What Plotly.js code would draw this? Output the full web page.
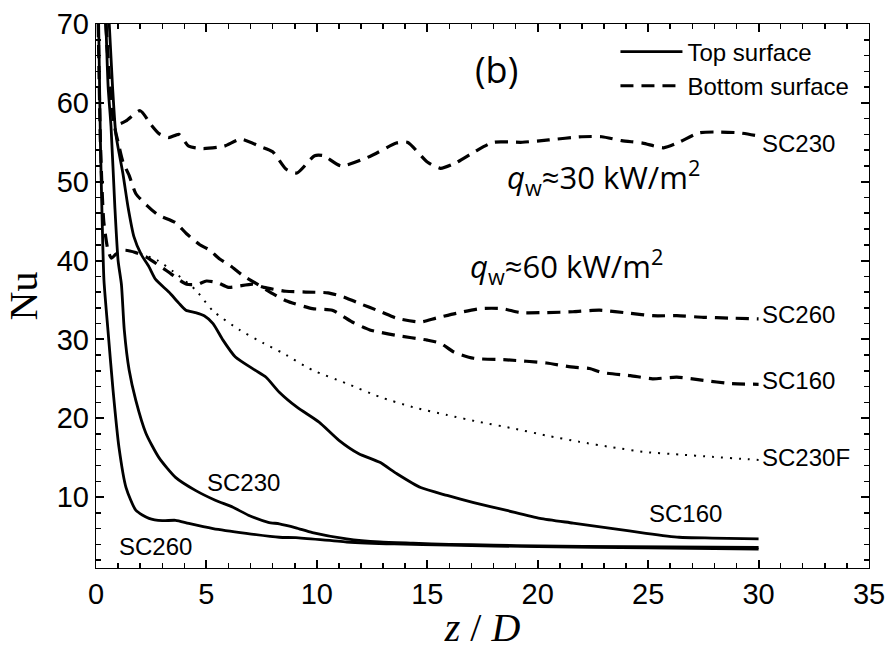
<!DOCTYPE html>
<html>
<head>
<meta charset="utf-8">
<script src="https://cdn.plot.ly/plotly-3.0.1.min.js"></script>
<style>html,body{margin:0;padding:0;background:#fff;}#chart{width:888px;height:651px;}</style>
</head>
<body>
<div id="chart"></div>
<script>
// Top surface (solid)
const topSC260_x = [0.12, 0.2, 0.28, 0.36, 0.54, 0.77, 1.04, 1.36, 1.81, 2.4, 3.0, 3.6, 4.2, 5.3, 6.8, 8.3, 9.05, 11.35, 13.5, 16, 20, 25, 30];
const topSC260_y = [70, 55, 45, 37.5, 31.2, 23.6, 16.3, 11.2, 8.3, 7.3, 7.0, 7.05, 6.65, 6.0, 5.4, 4.9, 4.85, 4.3, 4.05, 3.9, 3.7, 3.55, 3.4];
const topSC230_x = [0.45, 0.55, 0.68, 0.85, 1.0, 1.15, 1.28, 1.5, 1.8, 2.26, 2.85, 3.6, 4.5, 5.4, 6.2, 6.9, 7.8, 8.3, 9.05, 9.8, 11.35, 12.85, 14.35, 16, 18, 20, 24, 30];
const topSC230_y = [70, 62, 57, 47, 40, 37, 31.2, 26.1, 22.3, 18.1, 15.0, 12.5, 10.85, 9.6, 8.7, 7.7, 6.8, 6.6, 6.1, 5.5, 4.7, 4.3, 4.15, 4.0, 3.9, 3.8, 3.7, 3.6];
const topSC160_x = [0.6, 0.75, 0.9, 1.22, 1.45, 1.72, 2.04, 2.4, 2.7, 3.3, 3.75, 4.07, 4.5, 4.9, 5.3, 5.75, 6.3, 7.2, 7.7, 8.3, 9.1, 10.1, 11.0, 11.9, 12.85, 13.6, 14.7, 15.9, 17.1, 18.6, 20.1, 21.6, 23.4, 24.9, 26.4, 27.9, 30];
const topSC160_y = [70, 62, 56, 51, 46.8, 43, 40.8, 39.2, 37.6, 36, 34.6, 33.7, 33.4, 33.0, 32.0, 29.9, 27.8, 26.1, 25.2, 23.3, 21.4, 19.5, 17.2, 15.5, 14.4, 13.0, 11.2, 10.2, 9.3, 8.3, 7.3, 6.7, 6.0, 5.4, 4.9, 4.8, 4.7];

// Bottom surface (dashed)
const botSC230_x = [0.45, 0.6, 0.8, 1.0, 1.36, 2.0, 2.5, 2.85, 3.3, 3.75, 4.2, 4.85, 5.8, 6.56, 7.4, 8.0, 8.6, 9.1, 9.9, 10.3, 11.1, 12.4, 13.6, 14.1, 15.0, 15.6, 16.3, 17.2, 18.0, 19.3, 20.5, 22.0, 22.9, 23.8, 24.75, 25.7, 26.4, 27.3, 28.2, 29.1, 30];
const botSC230_y = [70, 63, 58, 57.3, 57.7, 59, 57.2, 56.1, 55.6, 56.0, 54.5, 54.2, 54.5, 55.4, 54.5, 53.8, 51.6, 51.1, 53.3, 53.3, 52.0, 53.2, 54.9, 55.0, 52.5, 51.7, 52.4, 53.9, 55.0, 55.0, 55.3, 55.7, 55.7, 55.2, 54.9, 54.3, 55.0, 56.2, 56.3, 56.2, 55.8];
const botSC260_x = [0.1, 0.2, 0.35, 0.55, 0.7, 0.9, 1.3, 1.8, 2.3, 3.2, 4.1, 4.6, 5.0, 5.5, 6.0, 7.1, 7.6, 8.6, 9.5, 10.5, 11.2, 11.8, 12.9, 13.6, 14.7, 15.4, 16.3, 17.4, 18.4, 19.2, 20.4, 21.6, 22.8, 24.2, 25.2, 26.3, 27.5, 28.7, 30];
const botSC260_y = [70, 55, 45, 41.2, 40.3, 40.8, 41.3, 41.0, 40.4, 38.7, 37.0, 37.0, 37.4, 37.2, 36.6, 37.0, 36.6, 36.1, 36.0, 35.9, 35.4, 34.7, 33.5, 32.7, 32.2, 32.7, 33.3, 33.9, 33.9, 33.4, 33.4, 33.5, 33.7, 33.3, 33.0, 33.0, 32.8, 32.7, 32.6];
const botSC160_x = [0.45, 0.6, 0.8, 1.0, 1.22, 1.5, 1.8, 2.3, 2.8, 3.6, 4.1, 4.7, 5.1, 5.6, 6.1, 6.6, 7.3, 8.0, 8.6, 9.8, 10.7, 11.6, 12.4, 13.6, 15.0, 15.6, 16.2, 17.1, 18.6, 20.4, 21.5, 22.35, 22.9, 24.2, 25.2, 26.3, 27.5, 28.7, 30];
const botSC160_y = [70, 63, 57.5, 55, 52.5, 50.8, 48.5, 47.0, 45.8, 44.8, 43.4, 42.0, 41.4, 40.2, 39.3, 38.2, 37.0, 35.8, 34.9, 33.9, 33.7, 32.2, 31.2, 30.5, 29.9, 29.5, 28.4, 27.6, 27.4, 27.0, 26.5, 26.3, 25.8, 25.4, 25.0, 25.2, 24.8, 24.4, 24.3];

// SC230F (dotted)
const sc230F_x = [2.0, 2.8, 3.5, 4.5, 5.3, 6.5, 7.6, 8.5, 9.8, 11.35, 12.85, 14.35, 15.9, 17.4, 18.9, 20.4, 21.9, 23.4, 24.9, 26.4, 27.9, 29.5, 30];
const sc230F_y = [40.9, 40.0, 38.6, 36.3, 33.6, 31.2, 29.5, 28.2, 26.1, 24.4, 22.7, 21.4, 20.4, 19.5, 18.7, 17.8, 17.0, 16.3, 15.7, 15.4, 15.1, 14.8, 14.7];

const labels = [
  {text: 'SC230', x: 30.05, y: 54.9, xanchor: 'left'},
  {text: 'SC260', x: 30.05, y: 33.1, xanchor: 'left'},
  {text: 'SC160', x: 30.05, y: 24.8, xanchor: 'left'},
  {text: 'SC230F', x: 30.05, y: 15.05, xanchor: 'left'},
  {text: 'SC160', x: 26.7, y: 7.9, xanchor: 'center'},
  {text: 'SC230', x: 6.7, y: 11.9, xanchor: 'center'},
  {text: 'SC260', x: 2.7, y: 3.7, xanchor: 'center'}
];

const solid = {color: '#000', width: 2.8, shape: 'spline', smoothing: 0.6};
const dashed = {color: '#000', width: 3.2, dash: '13px,8px', shape: 'spline', smoothing: 0.6};
const dotted = {color: '#000', width: 2, dash: '2px,7px', shape: 'spline', smoothing: 0.6};

const traces = [
  {x: topSC260_x, y: topSC260_y, mode: 'lines', line: solid, showlegend: false, name: 'SC260 top'},
  {x: topSC230_x, y: topSC230_y, mode: 'lines', line: solid, showlegend: false, name: 'SC230 top'},
  {x: topSC160_x, y: topSC160_y, mode: 'lines', line: solid, showlegend: true, name: 'Top surface'},
  {x: botSC230_x, y: botSC230_y, mode: 'lines', line: dashed, showlegend: true, name: 'Bottom surface'},
  {x: botSC260_x, y: botSC260_y, mode: 'lines', line: dashed, showlegend: false, name: 'SC260 bottom'},
  {x: botSC160_x, y: botSC160_y, mode: 'lines', line: dashed, showlegend: false, name: 'SC160 bottom'},
  {x: sc230F_x, y: sc230F_y, mode: 'lines', line: dotted, showlegend: false, name: 'SC230F'}
];

const annFont = {family: 'Liberation Sans, Arial, sans-serif', size: 24, color: '#000'};
const annotations = labels.map(l => ({
  text: l.text, x: l.x, y: l.y, xref: 'x', yref: 'y', xanchor: l.xanchor, yanchor: 'middle',
  showarrow: false, font: annFont
}));
const calFont = {family: 'Open Sans, sans-serif', size: 31, color: '#000'};
annotations.push({text: '(b)', x: 18.15, y: 64.2, xref: 'x', yref: 'y', showarrow: false, font: {family: 'Open Sans, sans-serif', size: 36, color: '#000'}});
annotations.push({text: '<i>q</i><sub>w</sub>≈30 kW/m<sup>2</sup>', x: 23.0, y: 50.5, xref: 'x', yref: 'y', showarrow: false, font: calFont});
annotations.push({text: '<i>q</i><sub>w</sub>≈60 kW/m<sup>2</sup>', x: 21.3, y: 39.2, xref: 'x', yref: 'y', showarrow: false, font: calFont});

const tickFont = {family: 'Liberation Sans, Arial, sans-serif', size: 29, color: '#000'};
const layout = {
  width: 888, height: 651,
  margin: {l: 96, r: 19, t: 24, b: 83},
  paper_bgcolor: '#fff', plot_bgcolor: '#fff',
  xaxis: {
    range: [0, 35], dtick: 5,
    ticks: 'inside', ticklen: 8, tickwidth: 2, tickcolor: 'black',
    showline: true, linecolor: 'black', linewidth: 1.3, mirror: 'ticks',
    showgrid: false, zeroline: false,
    minor: {dtick: 1, ticks: 'inside', ticklen: 5, tickwidth: 1.5, tickcolor: 'black'},
    tickfont: tickFont,
    title: {text: '<i>z</i> / <i>D</i>', font: {family: 'Liberation Serif, serif', size: 40, color: '#000'}, standoff: 4}
  },
  yaxis: {
    range: [1, 70], dtick: 10,
    ticks: 'inside', ticklen: 8, tickwidth: 2, tickcolor: 'black',
    showline: true, linecolor: 'black', linewidth: 1.3, mirror: 'ticks',
    showgrid: false, zeroline: false,
    minor: {dtick: 2, ticks: 'inside', ticklen: 5, tickwidth: 1.5, tickcolor: 'black'},
    tickfont: tickFont,
    title: {text: 'Nu', font: {family: 'Liberation Serif, serif', size: 40, color: '#000'}, standoff: 6}
  },
  showlegend: true,
  legend: {
    x: 0.672, y: 0.99, xanchor: 'left', yanchor: 'top',
    bgcolor: 'rgba(0,0,0,0)', borderwidth: 0,
    font: {family: 'Liberation Sans, Arial, sans-serif', size: 24, color: '#000'},
    itemwidth: 62, tracegroupgap: 0
  },
  annotations: annotations
};

Plotly.newPlot('chart', traces, layout, {staticPlot: true});
</script>
</body>
</html>
